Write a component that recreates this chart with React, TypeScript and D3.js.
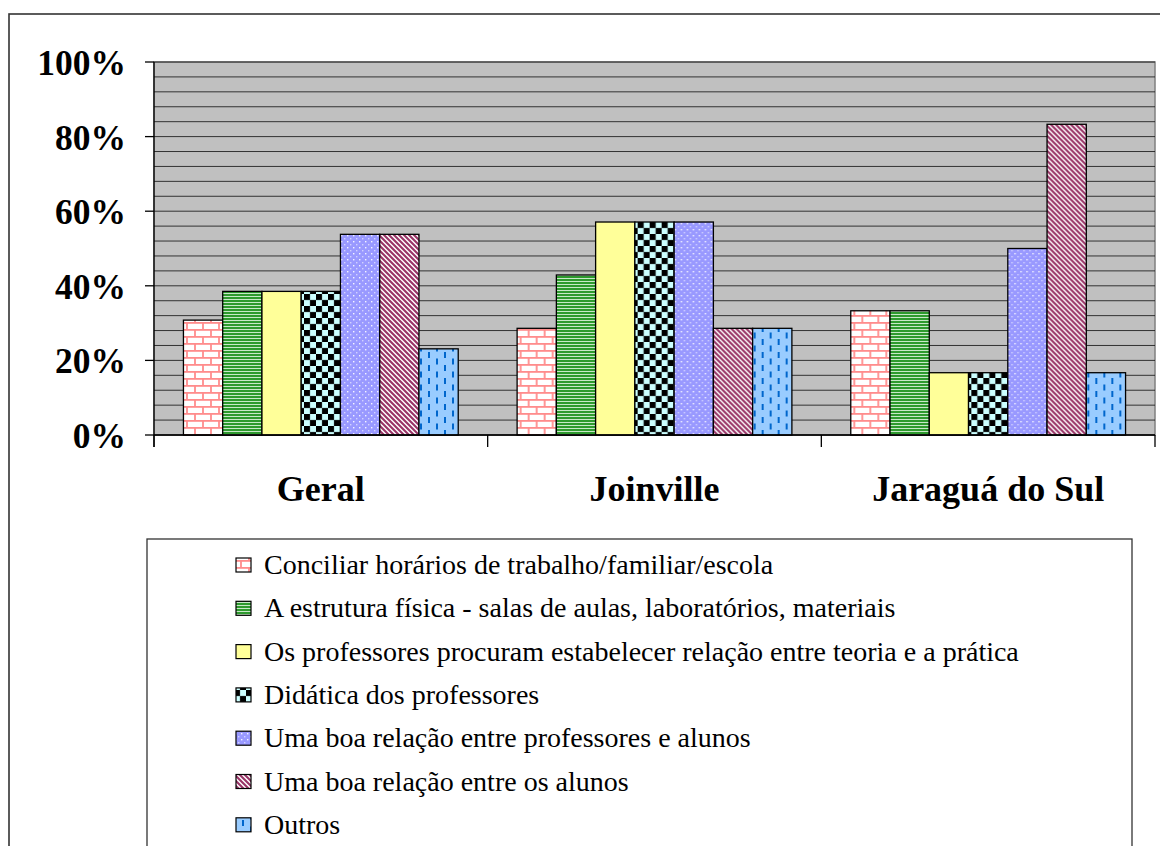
import React from "react";
import * as d3 from "d3";

const categories = ["Geral", "Joinville", "Jaraguá do Sul"];
const seriesNames = [
  "Conciliar horários de trabalho/familiar/escola",
  "A estrutura física - salas de aulas, laboratórios, materiais",
  "Os professores procuram estabelecer relação entre teoria e a prática",
  "Didática dos professores",
  "Uma boa relação entre professores e alunos",
  "Uma boa relação entre os alunos",
  "Outros",
];
// values per series, one entry per category (percent)
const conciliar = [30.8, 28.6, 33.3];
const estrutura = [38.5, 42.9, 33.3];
const teoriaPratica = [38.5, 57.1, 16.7];
const didatica = [38.5, 57.1, 16.7];
const relProfAlunos = [53.8, 57.1, 50.0];
const relAlunos = [53.8, 28.6, 83.3];
const outros = [23.1, 28.6, 16.7];
const seriesValues = [conciliar, estrutura, teoriaPratica, didatica, relProfAlunos, relAlunos, outros];
const yTicks = [0, 20, 40, 60, 80, 100];
const minorTicks = d3.range(0, 101, 4);

const W = 1160;
const H = 846;
const plot = { left: 154, right: 1155, top: 62, bottom: 435 };
const serif = '"Times New Roman", "Liberation Serif", Tinos, "DejaVu Serif", serif';

function Patterns() {
  return (
    <defs>
      <pattern id="p0" width="16" height="14" patternUnits="userSpaceOnUse">
        <rect width="16" height="14" fill="#ffffff" />
        <g stroke="#ff8c8c" strokeWidth="1.8">
          <line x1="0" y1="0.9" x2="16" y2="0.9" />
          <line x1="0" y1="7.9" x2="16" y2="7.9" />
          <line x1="1" y1="0.9" x2="1" y2="7.9" />
          <line x1="9" y1="7.9" x2="9" y2="14.9" />
        </g>
      </pattern>
      <pattern id="p1" width="6" height="3" patternUnits="userSpaceOnUse">
        <rect width="6" height="3" fill="#c8e8c8" />
        <rect width="6" height="2" fill="#2e9a2e" />
      </pattern>
      <pattern id="p2" width="8" height="8" patternUnits="userSpaceOnUse">
        <rect width="8" height="8" fill="#ffff99" />
      </pattern>
      <pattern id="p3" width="12" height="12" patternUnits="userSpaceOnUse">
        <rect width="12" height="12" fill="#ccffff" />
        <rect x="0" y="0" width="6" height="6" fill="#000" />
        <rect x="6" y="6" width="6" height="6" fill="#000" />
        <rect x="0" y="0" width="12" height="12" fill="none" stroke="#5a7a7a" strokeWidth="0.6" opacity="0.6" />
      </pattern>
      <pattern id="p4" width="6" height="6" patternUnits="userSpaceOnUse">
        <rect width="6" height="6" fill="#9999ff" />
        <rect x="1" y="1" width="1.4" height="1.4" fill="#ffffff" opacity="0.9" />
        <rect x="4" y="4" width="1.4" height="1.4" fill="#e0e0ff" opacity="0.8" />
      </pattern>
      <pattern id="p5" width="5" height="5" patternUnits="userSpaceOnUse">
        <rect width="5" height="5" fill="#ffffff" />
        <path d="M-1.25,-1.25 L6.25,6.25 M-1.25,3.75 L1.25,6.25 M3.75,-1.25 L6.25,1.25" stroke="#993366" strokeWidth="2.1" />
      </pattern>
      <pattern id="p6" width="16" height="13" patternUnits="userSpaceOnUse">
        <rect width="16" height="13" fill="#99ccff" />
        <rect x="2" y="1" width="2" height="6" fill="#0066cc" />
        <rect x="10" y="7.5" width="2" height="6" fill="#0066cc" />
        <rect x="10" y="-5.5" width="2" height="6" fill="#0066cc" />
      </pattern>
    </defs>
  );
}

export default function App() {
  const y = d3.scaleLinear().domain([0, 100]).range([plot.bottom, plot.top]);
  const x0 = d3.scaleBand<string>().domain(categories).range([plot.left, plot.right]).paddingInner(0).paddingOuter(0);
  const groupW = x0.bandwidth();
  const barW = groupW / 8.5;
  const x1 = d3
    .scaleBand<number>()
    .domain(d3.range(seriesNames.length))
    .range([0.75 * barW, groupW - 0.75 * barW])
    .padding(0);

  const legendTop = 539;
  const legendRow = 43.3;
  const legendX = 236;

  return (
    <svg width={W} height={H} style={{ position: "absolute", left: 0, top: 0 }}>
      <Patterns />
      <rect x={0} y={0} width={W} height={H} fill="#ffffff" />
      {/* outer chart frame */}
      <rect x={9} y={14} width={W + 20} height={H + 20} fill="none" stroke="#333" strokeWidth={1.6} />
      {/* plot area */}
      <rect x={plot.left} y={plot.top} width={plot.right - plot.left} height={plot.bottom - plot.top} fill="#c0c0c0" stroke="#808080" strokeWidth={1.5} />
      {minorTicks.map((t) => (
        <line key={"g" + t} x1={plot.left} x2={plot.right} y1={y(t)} y2={y(t)} stroke="#1a1a1a" strokeWidth={1} opacity={0.85} />
      ))}
      {/* bars */}
      {categories.map((c, ci) => (
        <g key={c} transform={`translate(${x0(c)},0)`}>
          {seriesValues.map((vals, si) => (
            <rect
              key={si}
              x={x1(si)}
              y={y(vals[ci])}
              width={x1.bandwidth()}
              height={y(0) - y(vals[ci])}
              fill={`url(#p${si})`}
              stroke="#000"
              strokeWidth={1.3}
            />
          ))}
        </g>
      ))}
      {/* y axis */}
      <line x1={plot.left} x2={plot.left} y1={plot.top} y2={plot.bottom + 12} stroke="#000" strokeWidth={1.3} />
      {yTicks.map((t) => (
        <g key={"t" + t}>
          <line x1={plot.left - 9} x2={plot.left} y1={y(t)} y2={y(t)} stroke="#000" strokeWidth={1.3} />
          <text x={126} y={y(t) + 13} textAnchor="end" style={{ fontFamily: serif }} fontWeight="bold" fontSize={35.5}>
            {t + "%"}
          </text>
        </g>
      ))}
      {/* x axis */}
      <line x1={plot.left} x2={plot.right} y1={plot.bottom} y2={plot.bottom} stroke="#000" strokeWidth={1.3} />
      {[...categories.map((c) => x0(c) as number), plot.right].map((xv, i) => (
        <line key={"xt" + i} x1={xv} x2={xv} y1={plot.bottom} y2={plot.bottom + 12} stroke="#000" strokeWidth={1.3} />
      ))}
      {categories.map((c) => (
        <text key={"cl" + c} x={(x0(c) as number) + groupW / 2} y={501} textAnchor="middle" style={{ fontFamily: serif }} fontWeight="bold" fontSize={36}>
          {c}
        </text>
      ))}
      {/* legend */}
      <rect x={147} y={legendTop} width={985} height={H} fill="#ffffff" stroke="#333" strokeWidth={1.3} />
      {seriesNames.map((name, i) => {
        const cy = legendTop + 26 + i * legendRow;
        return (
          <g key={"lg" + i}>
            <rect x={legendX} y={cy - 7} width={15} height={14} fill={`url(#p${i})`} stroke="#000" strokeWidth={1.2} />
            <text x={legendX + 28} y={cy + 9} style={{ fontFamily: serif }} fontSize={28}>
              {name}
            </text>
          </g>
        );
      })}
    </svg>
  );
}
